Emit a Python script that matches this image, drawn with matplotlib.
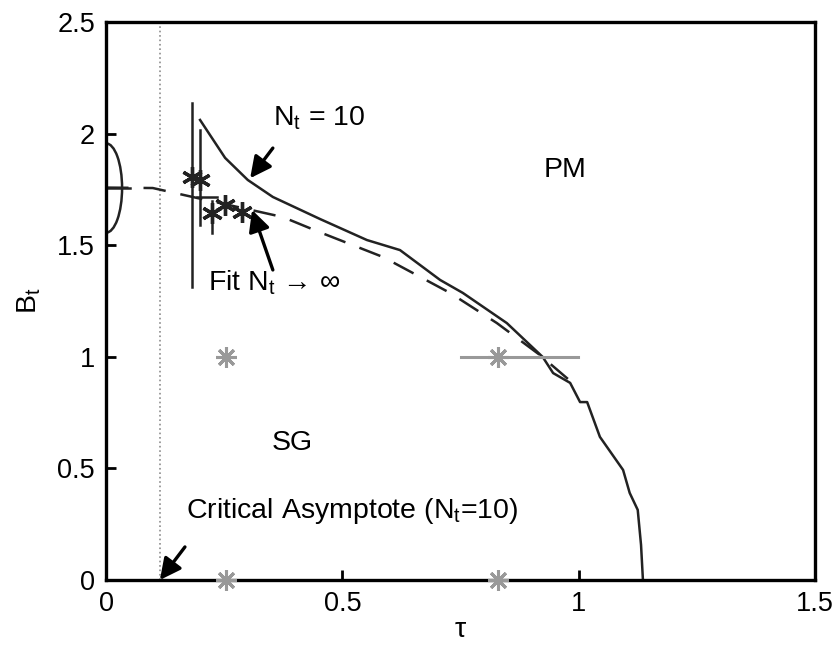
# phase diagram tau vs B_t
import numpy as np
import matplotlib
matplotlib.use("Agg")
from matplotlib import pyplot as plt
from matplotlib.patches import Ellipse

plt.rcParams['font.family'] = ['Liberation Sans', 'DejaVu Sans']
plt.rcParams['mathtext.fontset'] = 'custom'
plt.rcParams['mathtext.rm'] = 'Liberation Sans'
plt.rcParams['mathtext.it'] = 'Liberation Sans'

# data
tau_nt10 = [0.199, 0.252, 0.300, 0.353, 0.453, 0.552, 0.622, 0.707, 0.755, 0.848,
            0.924, 0.946, 0.982, 1.003, 1.018, 1.045, 1.094, 1.108, 1.125, 1.132, 1.136]
bt_nt10 = [2.061, 1.891, 1.792, 1.716, 1.617, 1.523, 1.478, 1.344, 1.286, 1.151,
           0.999, 0.927, 0.883, 0.797, 0.797, 0.641, 0.493, 0.390, 0.314, 0.157, 0.0]

tau_fit = [0.0, 0.099, 0.2, 0.3, 0.374, 0.45, 0.586, 0.728, 0.827, 0.918, 0.992]
bt_fit = [1.758, 1.756, 1.708, 1.661, 1.626, 1.56, 1.447, 1.286, 1.151, 1.008, 0.874]

# finite size points with vertical error bars
tau_pts = [0.182, 0.199, 0.224, 0.252, 0.288]
bt_pts = [1.805, 1.790, 1.644, 1.680, 1.649]
bt_lo = [1.313, 1.590, 1.555, 1.680, 1.649]
bt_hi = [2.137, 2.016, 1.700, 1.680, 1.649]
hseg_tau = [0.193, 0.235]
hseg_bt = [1.716, 1.716]

# extrapolation at tau = 0
ell_center = (0.0, 1.756)
ell_halfw = 0.034
ell_halfh = 0.2
ell_bar_tau = [0.0, 0.05]

# critical asymptote
tau_crit = 0.114

# gray simulation points
gray_tau = [0.254, 0.829, 0.254, 0.829]
gray_bt = [1.0, 1.0, 0.0, 0.0]
gray_bar_tau = [0.751, 0.998]

def main():
    fig = plt.figure(figsize=(8.4, 6.46), dpi=100)
    ax = fig.add_axes([0.1262, 0.1022, 0.8440, 0.8638])

    ax.plot([tau_crit, tau_crit], [0, 2.5], color='0.55', linestyle=':', lw=1.2)

    ax.plot(tau_fit, bt_fit, color='#222222', lw=1.8, dashes=(9, 6))
    ax.plot(tau_nt10, bt_nt10, color='#222222', lw=1.8)

    ax.add_patch(Ellipse(ell_center, 2 * ell_halfw, 2 * ell_halfh, fill=False,
                         ec='#222222', lw=1.8))
    ax.plot(ell_bar_tau, [ell_center[1]] * 2, color='#222222', lw=1.8)

    for t, lo, hi in zip(tau_pts, bt_lo, bt_hi):
        ax.plot([t, t], [lo, hi], color='#222222', lw=1.8)
    ax.plot(hseg_tau, hseg_bt, color='#222222', lw=1.8)
    ax.plot(tau_pts, bt_pts, linestyle='none', marker=(6, 2, 0), ms=15,
            mec='#222222', mew=2.4)

    ax.plot(gray_bar_tau, [gray_bt[1]] * 2, color='0.6', lw=2.2)
    ax.plot(gray_tau, gray_bt, linestyle='none', marker=(8, 2, 0), ms=15,
            mec='0.6', mew=2.2, clip_on=False, zorder=5)

    arrow = dict(arrowstyle='-|>', mutation_scale=32, lw=2.4, color='k',
                 shrinkA=0, shrinkB=0)
    ax.annotate('', xy=(0.305, 1.80), xytext=(0.353, 1.935), arrowprops=arrow)
    ax.annotate('', xy=(0.309, 1.658), xytext=(0.353, 1.389), arrowprops=arrow)
    ax.annotate('', xy=(0.114, 0.0), xytext=(0.167, 0.148), arrowprops=arrow,
                annotation_clip=False)

    fs = 20.5
    ax.text(0.353, 2.07, r'N$_t$ = 10', fontsize=fs, va='center')
    ax.text(0.216, 1.33, 'Fit N$_t$ \u2192 \u221e', fontsize=fs, va='center')
    ax.text(0.169, 0.31, r'Critical Asymptote (N$_t$=10)', fontsize=fs, va='center')
    ax.text(0.971, 1.837, 'PM', fontsize=fs, ha='center', va='center')
    ax.text(0.393, 0.614, 'SG', fontsize=fs, ha='center', va='center')

    ax.set_xlim(0, 1.5)
    ax.set_ylim(0, 2.5)
    ax.set_xticks([0, 0.5, 1, 1.5])
    ax.set_xticklabels(['0', '0.5', '1', '1.5'])
    ax.set_yticks([0, 0.5, 1, 1.5, 2, 2.5])
    ax.set_yticklabels(['0', '0.5', '1', '1.5', '2', '2.5'])
    ax.tick_params(direction='in', length=7, width=2, labelsize=19.5, pad=8,
                   top=False, right=False)
    for s in ax.spines.values():
        s.set_linewidth(2.4)
    ax.set_xlabel(r'$\tau$', fontsize=fs, labelpad=0)
    ax.set_ylabel(r'B$_t$', fontsize=fs, labelpad=10)

    fig.savefig('out.png', dpi=100)

if __name__ == "__main__":
    main()
